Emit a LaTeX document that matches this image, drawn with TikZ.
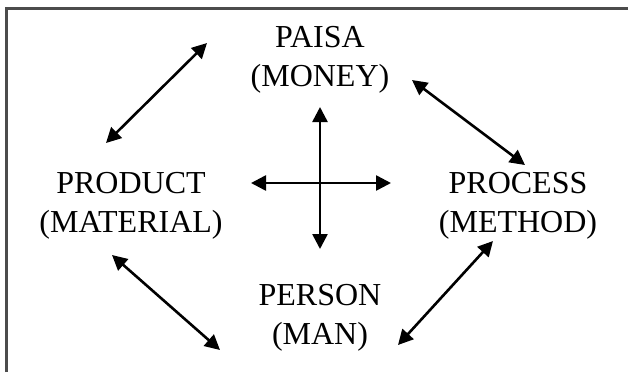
\documentclass[tikz,border=0pt]{standalone}
\usepackage{fontspec}
\setmainfont{Liberation Serif}
\usetikzlibrary{arrows.meta}

\begin{document}
\begin{tikzpicture}[x=0.5pt,y=-0.5pt,line width=1.3pt,
  flecha/.style={{Triangle[length=7.5pt,width=7.5pt]}-{Triangle[length=7.5pt,width=7.5pt]}},
  etiqueta/.style={align=center,inner sep=0pt,font=\fontsize{16}{19.5}\selectfont}]
  \useasboundingbox (0,0) rectangle (628,372);
  % marco (solo arriba e izquierda)
  \draw[black!70,line width=1.25pt] (6.5,372) -- (6.5,8.5) -- (628,8.5);
  % las cuatro P
  \node[etiqueta] (paisa) at (320,60) {PAISA\\(MONEY)};
  \node[etiqueta] (product) at (131,206) {PRODUCT\\(MATERIAL)};
  \node[etiqueta] (process) at (518,206) {PROCESS\\(METHOD)};
  \node[etiqueta] (person) at (320,318) {PERSON\\(MAN)};
  % extremos de las flechas
  \coordinate (pm1) at (106,143); \coordinate (pm2) at (207,43);
  \coordinate (pp1) at (412,80);  \coordinate (pp2) at (525,165);
  \coordinate (mp1) at (112,255); \coordinate (mp2) at (220,350);
  \coordinate (ep1) at (398,345); \coordinate (ep2) at (493,241);
  \draw[flecha] (pm1) -- (pm2);
  \draw[flecha] (pp1) -- (pp2);
  \draw[flecha] (mp1) -- (mp2);
  \draw[flecha] (ep1) -- (ep2);
  % cruz central
  \coordinate (arr) at (320,107); \coordinate (aba) at (320,249);
  \coordinate (izq) at (251,183); \coordinate (der) at (391,183);
  \draw[flecha] (arr) -- (aba);
  \draw[flecha] (izq) -- (der);
\end{tikzpicture}
\end{document}
